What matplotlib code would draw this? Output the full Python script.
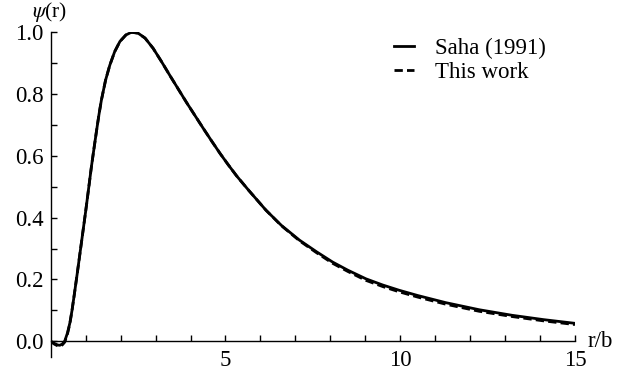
import matplotlib
matplotlib.use("Agg")
import matplotlib.pyplot as plt
import numpy as np

# values
r = [0.0, 0.1, 0.2, 0.26, 0.33, 0.4, 0.48, 0.55, 0.61, 0.68, 0.76, 0.88,
     1.0, 1.08, 1.165, 1.24, 1.31, 1.38, 1.45, 1.57, 1.69, 1.83, 1.98, 2.15,
     2.31, 2.5, 2.7, 2.93, 3.17, 3.41, 3.65, 3.89, 4.13, 4.37, 4.61, 4.85,
     5.08, 5.32, 5.66, 6.16, 6.6, 7.12, 7.6, 8.07, 8.5, 9.02, 9.5, 9.97,
     10.5, 11.3, 12.26, 13.2, 14.1, 15.0]
psi_saha = [0.0, -0.007, -0.012, -0.013, -0.009, 0.0, 0.027, 0.06, 0.10,
            0.155, 0.22, 0.32, 0.42, 0.49, 0.565, 0.625, 0.68, 0.733, 0.78,
            0.845, 0.893, 0.937, 0.97, 0.991, 1.0, 0.997, 0.981, 0.948, 0.905,
            0.86, 0.816, 0.772, 0.73, 0.688, 0.647, 0.607, 0.571, 0.535, 0.489,
            0.424, 0.375, 0.327, 0.29, 0.256, 0.23, 0.202, 0.182, 0.165, 0.148,
            0.125, 0.102, 0.084, 0.07, 0.058]
psi_this = [0.0, -0.009, -0.015, -0.016, -0.012, -0.003, 0.024, 0.058, 0.10,
            0.155, 0.22, 0.32, 0.42, 0.49, 0.565, 0.625, 0.68, 0.733, 0.78,
            0.845, 0.893, 0.937, 0.97, 0.991, 1.0, 0.997, 0.981, 0.948, 0.905,
            0.86, 0.816, 0.772, 0.73, 0.688, 0.647, 0.607, 0.571, 0.535, 0.489,
            0.424, 0.374, 0.325, 0.287, 0.252, 0.226, 0.197, 0.177, 0.16, 0.143,
            0.12, 0.097, 0.08, 0.066, 0.054]

plt.rcParams.update({
    "font.family": "Liberation Serif",
    "mathtext.fontset": "stix",
    "font.size": 16.5,
})

fig = plt.figure(figsize=(6.37, 3.76), dpi=100)
ax = fig.add_axes([0.0796, 0.0513, 0.823, 0.863])

ax.plot(r, psi_saha, color="black", lw=2.0, label="Saha (1991)")
ax.plot(r, psi_this, color="black", lw=2.0, dashes=(3, 1.5), label="This work")

ax.set_xlim(0, 15)
ax.set_ylim(-0.05, 1.0)

# Mathematica-style axes crossing at the origin
for side in ("top", "right"):
    ax.spines[side].set_visible(False)
ax.spines["bottom"].set_position(("data", 0))
ax.spines["left"].set_linewidth(1.0)
ax.spines["bottom"].set_linewidth(1.0)

ax.set_xticks([5, 10, 15])
ax.set_xticks(np.arange(1, 15), minor=True)
ax.set_yticks(np.arange(0, 1.01, 0.2))
ax.set_yticks(np.arange(0.1, 1.0, 0.2), minor=True)
ax.set_yticklabels([f"{v:.1f}" for v in np.arange(0, 1.01, 0.2)])

ax.tick_params(which="both", direction="in", length=4.3, width=1.0)
ax.tick_params(axis="x", pad=6)
ax.tick_params(axis="y", pad=5)

fig.text(50 / 637, 1 - 12.5 / 376, r"$\psi$(r)", ha="center", va="center",
         fontsize=15.5)
ax.text(15.35, 0.0, "r/b", ha="left", va="center", fontsize=16.5)

ax.legend(loc="upper left", bbox_to_anchor=(0.637, 1.01), frameon=False,
          handlelength=0.9, handletextpad=0.9, labelspacing=0.1,
          borderaxespad=0, fontsize=16.5)

fig.savefig("out.png", dpi=100)
